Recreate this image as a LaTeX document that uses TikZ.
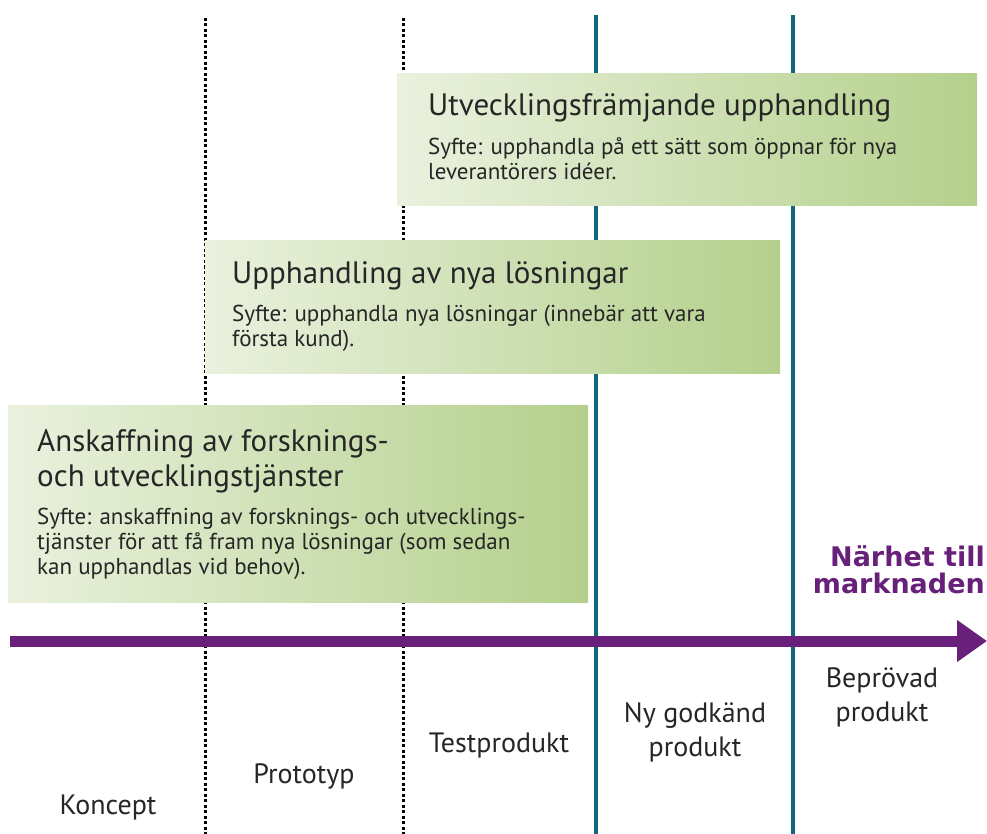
\documentclass[tikz,border=0pt]{standalone}
\usepackage{fontspec}
\setmainfont{PT Sans}
\newfontfamily\nearfont{DejaVu Sans}
\usetikzlibrary{arrows.meta, positioning, calc}

\definecolor{axispurple}{RGB}{104,32,122}
\definecolor{stageteal}{RGB}{18,104,122}
\definecolor{boxlight}{RGB}{234,241,222}
\definecolor{boxdark}{RGB}{180,208,140}

\begin{document}
\begin{tikzpicture}[
  x=1pt, y=-1pt,
  box/.style = {anchor=north west, inner sep=0pt, left color=boxlight, right color=boxdark, draw=none},
  title/.style = {anchor=north west, inner sep=0pt, align=left, text=black!85, font=\fontsize{31}{35}\selectfont},
  body/.style = {anchor=north west, inner sep=0pt, align=left, text=black!85, font=\fontsize{23}{25}\selectfont},
  stage/.style = {align=center, text=black!85, font=\fontsize{28}{34}\selectfont},
  dotline/.style = {line width=3pt, dash pattern=on 3pt off 2.5pt},
  tealline/.style = {line width=4pt, stageteal},
  axis/.style = {line width=11pt, axispurple, -{Triangle[length=30pt, width=40pt]}}
]
  \useasboundingbox (0,0) rectangle (987,834);

  % Stage borders
  \coordinate (d1top) at (205,18);  \coordinate (d1bot) at (205,834);
  \coordinate (d2top) at (403,18);  \coordinate (d2bot) at (403,834);
  \coordinate (t1top) at (596,15);  \coordinate (t1bot) at (596,834);
  \coordinate (t2top) at (793,15);  \coordinate (t2bot) at (793,834);
  \draw[dotline] (d1top) -- (d1bot);
  \draw[dotline] (d2top) -- (d2bot);
  \draw[tealline] (t1top) -- (t1bot);
  \draw[tealline] (t2top) -- (t2bot);

  % Procurement boxes
  \node[box, minimum width=580pt, minimum height=132pt] (utv) at (397,73) {};
  \node[title] (utvT) at ($(utv.north west)+(31,20)$) {Utvecklingsfrämjande upphandling};
  \node[body] (utvB) at ($(utvT.south west)+(0,15)$) {Syfte: upphandla på ett sätt som öppnar för nya\\leverantörers idéer.};

  \node[box, minimum width=575pt, minimum height=133pt] (nya) at (205,240) {};
  \node[title] (nyaT) at ($(nya.north west)+(27,21)$) {Upphandling av nya lösningar};
  \node[body] (nyaB) at ($(nyaT.south west)+(0,15)$) {Syfte: upphandla nya lösningar (innebär att vara\\första kund).};

  \node[box, minimum width=580pt, minimum height=197pt] (fou) at (8,405) {};
  \node[title] (fouT) at ($(fou.north west)+(29,24)$) {Anskaffning av forsknings-\\och utvecklingstjänster};
  \node[body] (fouB) at ($(fouT.south west)+(0,15)$) {Syfte: anskaffning av forsknings- och utvecklings-\\tjänster för att få fram nya lösningar (som sedan\\kan upphandlas vid behov).};

  % Axis
  \coordinate (axstart) at (10,641);
  \coordinate (axend) at (987,641);
  \draw[axis] (axstart) -- (axend);
  \node[anchor=base east, align=right, inner sep=0pt, text=axispurple, font=\nearfont\fontsize{27}{27}\selectfont\bfseries] (near) at (985,593) {Närhet till\\marknaden};

  % Stages
  \node[stage] (koncept) at (108,807) {Koncept};
  \node[stage] (proto) at (304,776) {Prototyp};
  \node[stage] (test) at (499,745) {Testprodukt};
  \node[stage] (godk) at (695,732) {Ny godkänd\\produkt};
  \node[stage] (beprov) at (882,697) {Beprövad\\produkt};
\end{tikzpicture}
\end{document}
